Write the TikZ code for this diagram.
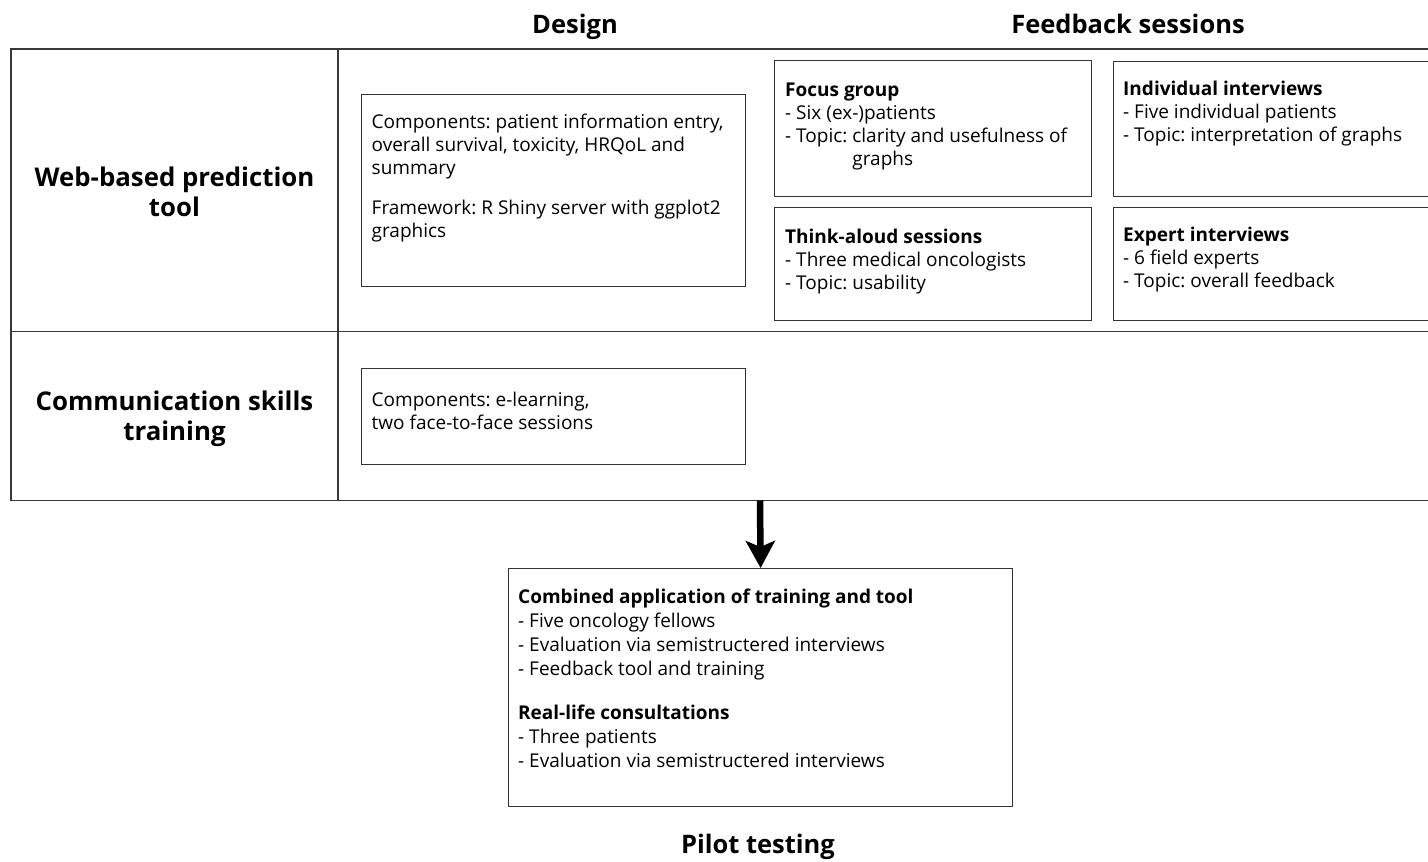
\documentclass[tikz,border=0pt]{standalone}
\usepackage{fontspec}
\setmainfont{Open Sans}
\usetikzlibrary{arrows.meta}
\frenchspacing
\newcommand\bodyf{\fontsize{19}{23}\selectfont}
\newcommand\pilotf{\fontsize{19}{24}\selectfont}
\newcommand\hdrf{\fontsize{25.5}{30}\selectfont\bfseries}
\newcommand\rowf{\fontsize{25.8}{30}\selectfont\bfseries}
\begin{document}
\begin{tikzpicture}[x=1pt,y=-1pt,
  tbl/.style={draw=black!78,line width=1.3pt},
  box/.style={draw=black!80,line width=1.2pt,inner sep=0pt,anchor=north west},
  txt/.style={anchor=north west,inner sep=0pt,align=left,font=\bodyf},
  ptxt/.style={anchor=north west,inner sep=0pt,align=left,font=\pilotf},
  hdr/.style={inner sep=0pt,anchor=base,font=\hdrf},
  rowlbl/.style={inner sep=0pt,anchor=north,align=center,font=\rowf},
  bigarrow/.style={line width=6.5pt,-{Stealth[length=27pt,width=29pt,inset=6pt]}}]
\useasboundingbox (0,0) rectangle (1428,862);
\clip (0,0) rectangle (1428,862);

% table frame
\draw[tbl] (1440,49) -| (11,500.5) -- (1440,500.5);
\draw[tbl] (11,331.5) -- (1440,331.5);
\draw[tbl] (338,49) -- (338,500.5);

% column headers
\node[hdr] (design) at (575,33) {Design};
\node[hdr] (feedback) at (1128,33) {Feedback sessions};

% row labels
\node[rowlbl] (weblbl) at (174.5,165.7) {\strut Web-based prediction\\tool};
\node[rowlbl] (commlbl) at (174.5,389) {\strut Communication skills\\training};

% design boxes
\node[box,minimum width=384pt,minimum height=192pt] (designbox) at (361,94) {};
\node[txt] (designtxt) at (371.5,111.9) {\strut Components: patient information entry,\\overall survival, toxicity, HRQoL and\\summary\\[17pt]Framework: R Shiny server with ggplot2\\graphics};

\node[box,minimum width=384pt,minimum height=96pt] (commbox) at (361,368) {};
\node[txt] (commtxt) at (371.5,389.9) {\strut Components: e-learning,\\two face-to-face sessions};

% feedback boxes
\node[box,minimum width=317pt,minimum height=136pt] (focus) at (774,60) {};
\node[txt] (focustxt) at (785,79.9) {\strut\textbf{Focus group}\\- Six (ex-)patients\\- Topic: clarity and usefulness of\\\hphantom{- Topic: }graphs};

\node[box,minimum width=317pt,minimum height=113pt] (think) at (774,207) {};
\node[txt] (thinktxt) at (785,226.9) {\strut\textbf{Think-aloud sessions}\\- Three medical oncologists\\- Topic: usability};

\node[box,minimum width=340pt,minimum height=135pt] (indiv) at (1113,61) {};
\node[txt] (indivtxt) at (1123,78.9) {\strut\textbf{Individual interviews}\\- Five individual patients\\- Topic: interpretation of graphs};

\node[box,minimum width=340pt,minimum height=113pt] (expert) at (1113,207) {};
\node[txt] (experttxt) at (1123,225.4) {\strut\textbf{Expert interviews}\\- 6 field experts\\- Topic: overall feedback};

% pilot box
\node[box,minimum width=504pt,minimum height=238pt] (pilot) at (508,568) {};
\node[ptxt] (pilottxt) at (518,586.2) {\strut\textbf{Combined application of training and tool}\\- Five oncology fellows\\- Evaluation via semistructered interviews\\- Feedback tool and training\\[20pt]\textbf{Real-life consultations}\\- Three patients\\- Evaluation via semistructered interviews};

\node[hdr] (pilotlbl) at (758,853) {Pilot testing};

% arrow
\coordinate (tbot) at (760,500.5);
\draw[bigarrow] (tbot) -- (pilot.north);
\end{tikzpicture}
\end{document}
